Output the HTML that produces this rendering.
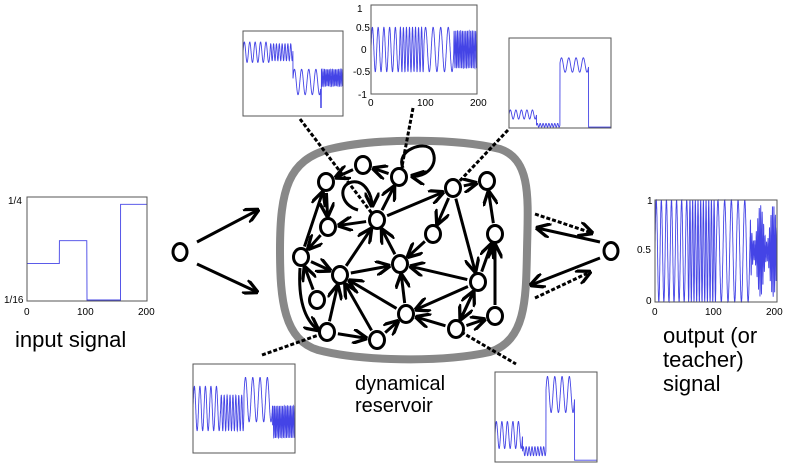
<!DOCTYPE html>
<html><head><meta charset="utf-8"><style>
html,body{margin:0;padding:0;background:#fff;width:797px;height:465px;overflow:hidden}
svg{display:block}
text{font-family:"Liberation Sans",sans-serif}
.t{font-size:10px;fill:#000}
.lab{font-size:22px;fill:#000}
.lab2{font-size:20px;fill:#000}
</style></head><body>
<svg id="s" width="797" height="465" viewBox="0 0 797 465" xmlns="http://www.w3.org/2000/svg">
<defs>
<marker id="ah" viewBox="0 0 10 10" refX="9" refY="5" markerWidth="5" markerHeight="5" orient="auto" markerUnits="strokeWidth">
<path d="M0,0 L10,5 L0,10" fill="none" stroke="#000" stroke-width="2.2"/>
</marker>
</defs>
<path d="M330,149 C380,137 460,139 500,149 C532,160 528,200 527,250 C526,300 526,340 490,352 C440,363 360,361 318,350 C284,340 280,300 280,250 C280,190 288,160 330,149 Z" fill="none" stroke="#888" stroke-width="8"/>
<g id="plots" fill="none" stroke="#4444e6" stroke-width="0.9"></g>
<g id="boxes" fill="none" stroke="#555" stroke-width="1"></g>
<g id="edges" fill="none" stroke="#000" stroke-width="3"></g>
<g id="dash" fill="none" stroke="#000" stroke-width="3" stroke-dasharray="4 2"></g>
<g id="nodes" fill="#fff" stroke="#000" stroke-width="3"></g>
<text class="t" x="8" y="204">1/4</text>
<text class="t" x="4" y="303">1/16</text>
<text class="t" x="24" y="315">0</text><text class="t" x="77" y="315">100</text><text class="t" x="138" y="315">200</text>
<text class="t" x="357" y="12">1</text><text class="t" x="356" y="31">0.5</text><text class="t" x="361" y="53">0</text><text class="t" x="353" y="75">-0.5</text><text class="t" x="358" y="98">-1</text>
<text class="t" x="368" y="106">0</text><text class="t" x="417" y="106">100</text><text class="t" x="470" y="106">200</text>
<text class="t" x="647" y="204">1</text><text class="t" x="637" y="253">0.5</text><text class="t" x="646" y="304">0</text>
<text class="t" x="652" y="315">0</text><text class="t" x="705" y="315">100</text><text class="t" x="766" y="315">200</text>
<text class="lab" x="15" y="347">input signal</text>
<text class="lab2" x="355" y="390">dynamical</text>
<text class="lab2" x="355" y="412">reservoir</text>
<text class="lab" x="663" y="343">output (or</text>
<text class="lab" x="663" y="367">teacher)</text>
<text class="lab" x="663" y="391">signal</text>
</svg>
<script>
var NS="http://www.w3.org/2000/svg";
function el(g,tag,a){var e=document.createElementNS(NS,tag);for(var k in a)e.setAttribute(k,a[k]);document.getElementById(g).appendChild(e);return e;}
function box(x,y,w,h){el("boxes","rect",{x:x,y:y,width:w,height:h});}
function plot(x,y,w,h,f,N){box(x,y,w,h);var p=[];for(var i=0;i<=N;i++){var t=i/N;var v=f(t);p.push((x+t*w).toFixed(1)+","+(y+(1-v)*h).toFixed(1));}el("plots","polyline",{points:p.join(" ")});}
function seg(t){return t<0.27?0:t<0.5?1:t<0.78?2:3;}
var fr=[18.5,35,14,64];
function ph(t,m){var s=0,b=[0,0.27,0.5,0.78,1];for(var k=0;k<4;k++){var a=b[k],c=b[k+1];if(t>c)s+=fr[k]*(c-a);else{s+=fr[k]*(t-a);break;}}return s*2*Math.PI*(m||1);}
plot(27,197,120,104,function(t){return t<0.27?0.36:t<0.5?0.58:t<0.78?0.01:0.93;},800);
plot(371,5,106,89,function(t){var a=seg(t)==3?0.42:0.5;return 0.5+0.5*a*Math.sin(ph(t));},1500);
plot(243,31,100,85,function(t){var s=seg(t);var o=[0.75,0.75,0.4,0.45][s];var a=[0.12,0.1,0.15,0.1][s];if(Math.abs(t-0.78)<0.004)return 0.1;return o+a*Math.sin(ph(t));},1500);
plot(509,38,102,90,function(t){var s=seg(t);var o=[0.15,0.03,0.7,0.01][s];var a=[0.05,0.02,0.08,0.0][s];return o+a*Math.sin(ph(t));},1500);
plot(655,200,122,102,function(t){var s=seg(t);if(s==3){return 0.5+0.45*Math.sin(ph(t,1.3))*(0.6+0.4*Math.sin(t*60));}return 0.5+0.5*Math.sin(ph(t,1.3));},2000);
plot(193,364,102,89,function(t){var s=seg(t);var o=[0.5,0.45,0.6,0.35][s];var a=[0.25,0.2,0.25,0.18][s];return o+a*Math.sin(ph(t));},1500);
plot(495,372,102,90,function(t){var s=seg(t);var o=[0.3,0.12,0.75,0.02][s];var a=[0.15,0.05,0.2,0.0][s];return o+a*Math.sin(ph(t));},1500);
var N={1:[363,165],2:[399,177],3:[326,182],4:[453,188],5:[487,181],6:[377,220],7:[328,227],8:[433,234],9:[495,234],10:[301,257],11:[400,264],12:[340,275],13:[478,282],14:[317,300],15:[406,314],16:[495,316],17:[327,332],18:[377,340],19:[456,329]};
var E=[[1,3],[2,1],[6,2],[6,4],[6,7],[3,7],[10,3],[7,10],[10,12],[14,10],[12,6],[12,11],[11,6],[8,11],[4,8],[4,5],[4,13],[13,11],[13,9],[16,9],[9,5],[15,11],[15,12],[13,15],[19,15],[19,13],[13,19],[19,16],[17,12],[18,12],[17,18],[18,15]];
E.forEach(function(e){var a=N[e[0]],b=N[e[1]];var dx=b[0]-a[0],dy=b[1]-a[1],L=Math.hypot(dx,dy);var r=11;el("edges","line",{x1:a[0]+dx/L*r,y1:a[1]+dy/L*r,x2:b[0]-dx/L*r,y2:b[1]-dy/L*r,"marker-end":"url(#ah)"});});
el("edges","path",{d:"M403,168 C395,150 425,140 432,150 C440,165 425,178 412,176","marker-end":"url(#ah)"});
el("edges","path",{d:"M358,210 C340,205 338,185 352,182 C365,180 372,195 372,206","marker-end":"url(#ah)"});
el("edges","path",{d:"M300,268 C298,300 305,320 318,330","marker-end":"url(#ah)"});
el("edges","line",{x1:197,y1:242,x2:258,y2:210,"marker-end":"url(#ah)"});
el("edges","line",{x1:197,y1:264,x2:257,y2:292,"marker-end":"url(#ah)"});
el("edges","line",{x1:600,y1:242,x2:537,y2:228,"marker-end":"url(#ah)"});
el("edges","line",{x1:600,y1:258,x2:531,y2:285,"marker-end":"url(#ah)"});
el("dash","line",{x1:535,y1:214,x2:592,y2:233,"marker-end":"url(#ah)"});
el("dash","line",{x1:535,y1:298,x2:590,y2:272,"marker-end":"url(#ah)"});
el("dash","line",{x1:300,y1:119,x2:377,y2:220});
el("dash","line",{x1:413,y1:108,x2:400,y2:177});
el("dash","line",{x1:508,y1:130,x2:453,y2:188});
el("dash","line",{x1:262,y1:355,x2:327,y2:332});
el("dash","line",{x1:456,y1:329,x2:516,y2:364});
for(var k in N){el("nodes","ellipse",{cx:N[k][0],cy:N[k][1],rx:7.5,ry:8.5});}
el("nodes","ellipse",{cx:180,cy:252,rx:7,ry:8.5});
el("nodes","ellipse",{cx:611,cy:251,rx:7,ry:8.5});
</script>
</body></html>
